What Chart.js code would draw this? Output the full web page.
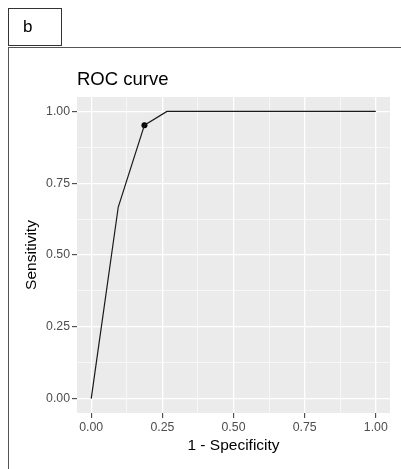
<!DOCTYPE html>
<html>
<head>
<meta charset="utf-8">
<script src="https://cdn.jsdelivr.net/npm/chart.js@4/dist/chart.umd.min.js"></script>
<style>
  html, body { margin: 0; padding: 0; background: #fff; width: 401px; height: 469px; overflow: hidden; }
  #wrap { position: relative; width: 401px; height: 469px; }
  #c { position: absolute; left: 0; top: 0; }
  #tag { position: absolute; left: 8px; top: 8px; width: 52px; height: 36px; border: 1px solid #333;
         font-family: "Liberation Sans", Arial, sans-serif; font-size: 17px; color: #000; box-sizing: content-box; }
  #tag span { position: absolute; left: 14px; top: 8px; }
  #frame { position: absolute; left: 8px; top: 47px; width: 600px; height: 600px;
           border-left: 1.5px solid #555; border-top: 1.5px solid #555; pointer-events: none; }
</style>
</head>
<body>
<div id="wrap">
  <canvas id="c" width="401" height="469"></canvas>
  <div id="tag"><span>b</span></div>
  <div id="frame"></div>
</div>
<script>
// ROC curve data
const fpr = [0, 0.095, 0.187, 0.266, 1];        // 1 - Specificity
const tpr = [0, 0.667, 0.952, 1, 1];            // Sensitivity
const cutoffX = [0.187];
const cutoffY = [0.952];
const majorTicks = [0, 0.25, 0.5, 0.75, 1];
const minorTicks = [0.125, 0.375, 0.625, 0.875];
const tickLabels = ["0.00", "0.25", "0.50", "0.75", "1.00"];
const chartTitle = "ROC curve";
const xTitle = "1 - Specificity";
const yTitle = "Sensitivity";

const FONT = '"Liberation Sans", Arial, sans-serif';

const allTicks = majorTicks.concat(minorTicks).sort((a, b) => a - b);
function isMajor(v) { return majorTicks.some(m => Math.abs(m - v) < 1e-9); }
function label(v) { const i = majorTicks.findIndex(m => Math.abs(m - v) < 1e-9); return i >= 0 ? tickLabels[i] : ''; }

const panelBg = {
  id: 'panelBg',
  beforeDraw(chart) {
    const { ctx, chartArea: a } = chart;
    ctx.save();
    ctx.fillStyle = '#EBEBEB';
    ctx.fillRect(a.left, a.top, a.right - a.left, a.bottom - a.top);
    ctx.restore();
  },
  afterDraw(chart) {
    const { ctx, chartArea: a } = chart;
    ctx.save();
    ctx.fillStyle = '#000';
    ctx.font = '18.5px ' + FONT;
    ctx.textAlign = 'left';
    ctx.textBaseline = 'alphabetic';
    ctx.fillText(chartTitle, a.left, 85);
    ctx.restore();
  }
};

function scaleOpts(titleText, titlePad) {
  return {
    type: 'linear',
    min: -0.05,
    max: 1.05,
    afterBuildTicks(scale) { scale.ticks = allTicks.map(v => ({ value: v })); },
    border: { display: false },
    grid: {
      color: '#FFFFFF',
      lineWidth: ctx => (ctx.tick && isMajor(ctx.tick.value)) ? 1.3 : 0.6,
      tickColor: ctx => (ctx.tick && isMajor(ctx.tick.value)) ? '#333333' : 'rgba(0,0,0,0)',
      tickLength: 5,
      tickWidth: 1
    },
    ticks: {
      autoSkip: false,
      maxRotation: 0,
      padding: 2,
      color: '#4D4D4D',
      font: { family: FONT, size: 12.3 },
      callback: v => label(v)
    },
    title: {
      display: true,
      text: titleText,
      color: '#000',
      font: { family: FONT, size: 15.5 },
      padding: titlePad
    }
  };
}

const xs = scaleOpts(xTitle, { top: 2, bottom: 4 });
xs.afterFit = s => { s.height = 469 - 413 - 10; };
const ys = scaleOpts(yTitle, { top: 12, bottom: 4 });
ys.afterFit = s => { s.width = 77 - 10; };

new Chart(document.getElementById('c'), {
  type: 'scatter',
  data: {
    datasets: [
      {
        data: fpr.map((x, i) => ({ x: x, y: tpr[i] })),
        showLine: true,
        borderColor: '#1a1a1a',
        borderWidth: 1.2,
        pointRadius: 0,
        fill: false
      },
      {
        data: cutoffX.map((x, i) => ({ x: x, y: cutoffY[i] })),
        showLine: false,
        pointRadius: 3,
        pointBackgroundColor: '#000',
        pointBorderColor: '#000',
        borderWidth: 0
      }
    ]
  },
  options: {
    responsive: false,
    animation: false,
    layout: { padding: { left: 10, right: 11, top: 97, bottom: 10 } },
    plugins: { legend: { display: false }, tooltip: { enabled: false }, title: { display: false } },
    scales: { x: xs, y: ys }
  },
  plugins: [panelBg]
});
</script>
</body>
</html>
